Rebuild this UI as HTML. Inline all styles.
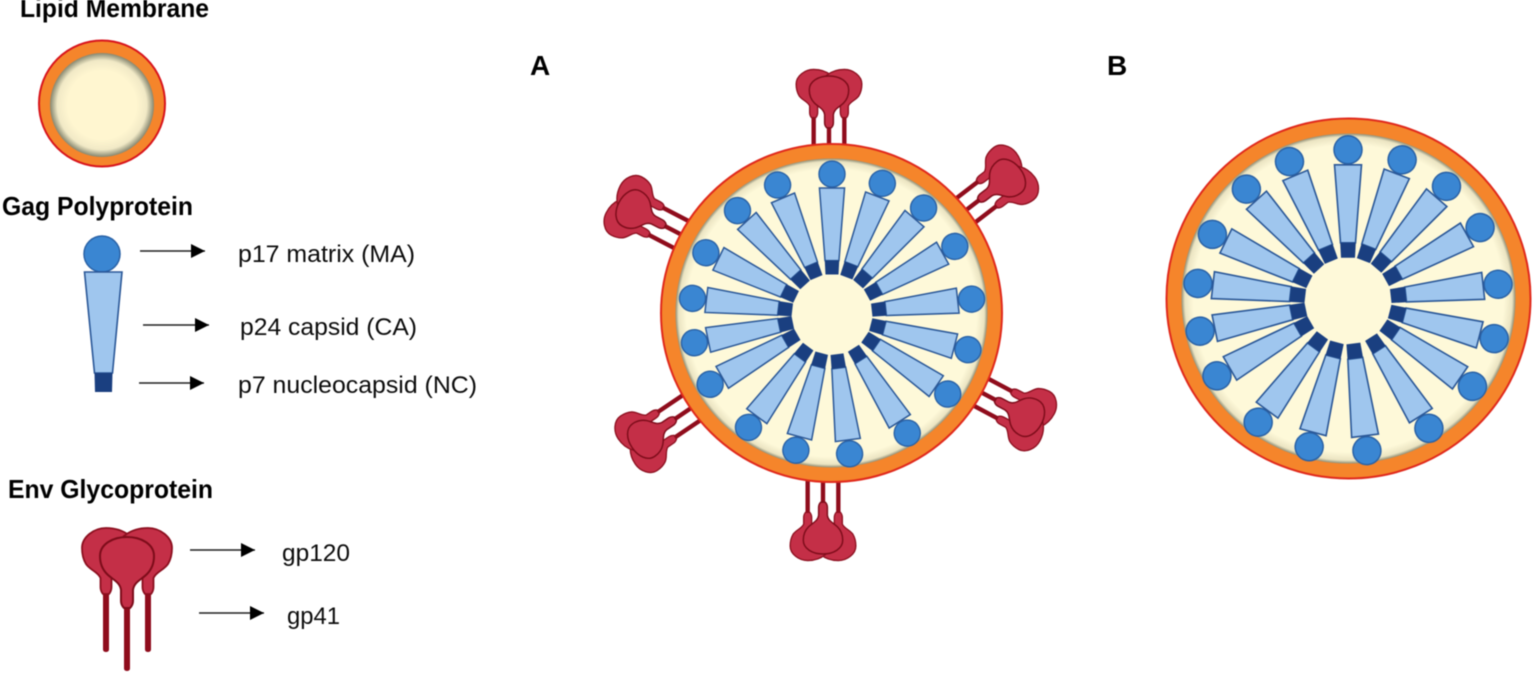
<!DOCTYPE html>
<html><head><meta charset="utf-8"><style>
html,body{margin:0;padding:0;background:#fff;width:1535px;height:674px;overflow:hidden}
svg{display:block;filter:blur(.55px)}
text{font-family:"Liberation Sans",sans-serif;fill:#000}
.b{font-weight:bold;font-size:26px;fill:#000}
.r{font-size:24px;fill:#0c0c0c}
.l{font-weight:bold;font-size:28px;fill:#000}
</style></head><body>
<svg width="1535" height="674" viewBox="0 0 1535 674" xmlns="http://www.w3.org/2000/svg">
<defs>
<radialGradient id="g1"><stop offset="0.66" stop-color="#fff6d0"/><stop offset="0.86" stop-color="#f1e9c6"/><stop offset="1" stop-color="#85866f"/></radialGradient>
<radialGradient id="g2"><stop offset="0.93" stop-color="#fef9d9"/><stop offset="0.98" stop-color="#ebe4c2"/><stop offset="1" stop-color="#8f8e76"/></radialGradient>
<g id="u">
<circle cy="-151" r="14" fill="#3a86d2" stroke="#2a62a6" stroke-width="1.5"/>
<polygon points="-7.5,-58 7.5,-58 13.5,-136 -13.5,-136" fill="#9fc6ee" stroke="#2a5797" stroke-width="1.6"/>
<polygon points="-7,-43 7,-43 7.8,-58 -7.8,-58" fill="#1a3f80"/>
</g>
<g id="units">
<use href="#u"/>
<use href="#u" transform="rotate(21)"/>
<use href="#u" transform="rotate(40.7)"/>
<use href="#u" transform="rotate(61)"/>
<use href="#u" transform="rotate(83.7)"/>
<use href="#u" transform="rotate(104.5)"/>
<use href="#u" transform="rotate(124.5)"/>
<use href="#u" transform="rotate(147.6)"/>
<use href="#u" transform="rotate(172.8)"/>
<use href="#u" transform="rotate(194.9)"/>
<use href="#u" transform="rotate(216.5)"/>
<use href="#u" transform="rotate(240.2)"/>
<use href="#u" transform="rotate(258.4)"/>
<use href="#u" transform="rotate(276.6)"/>
<use href="#u" transform="rotate(296.1)"/>
<use href="#u" transform="rotate(317.7)"/>
<use href="#u" transform="rotate(337.2)"/>
</g>
<g id="lobe">
<rect x="-3" y="590" width="6" height="62" rx="2.5" fill="#8f0c1c"/>
<path fill="#c42f47" stroke="#8c0f1f" stroke-width="1.8" d="M-5.5,578 C-8,572 -16,570 -20,564 C-23,559 -24,554 -24,548 C-24,537 -12,528 0,528 C10,528 18,531 24,536 C30,541 29,556 22,564 C15,570 8,572 5.5,578 L5.5,587 Q5.5,591 3,594 L-3,594 Q-5.5,591 -5.5,587Z"/>
</g>
<g id="env">
<use href="#lobe" transform="translate(-21 0)"/>
<use href="#lobe" transform="translate(21 0) scale(-1 1)"/>
<rect x="-3" y="600" width="6" height="71" rx="2.5" fill="#8f0c1c"/>
<path fill="#c42f47" stroke="#7d0c1a" stroke-width="2" d="M-6,590 C-7,582 -14,580 -20,574 C-25,569 -27,563 -27,556 C-27,544 -14,537 0,537 C14,537 27,544 27,556 C27,563 25,569 20,574 C14,580 7,582 6,590 L6,601 Q6,605 3,608 L-3,608 Q-6,605 -6,601Z"/>
</g>
<marker id="ah" markerUnits="userSpaceOnUse" markerWidth="16" markerHeight="16" refX="14" refY="7" orient="auto"><path d="M0,0 L14,7 L0,14Z" fill="#000"/></marker>
</defs>

<!-- Legend -->
<text class="b" x="20" y="17" textLength="189" lengthAdjust="spacingAndGlyphs">Lipid Membrane</text>
<circle cx="102" cy="103.5" r="63" fill="#f5852b" stroke="#d8141c" stroke-width="2"/>
<circle cx="102" cy="105" r="52" fill="url(#g1)"/>

<text class="b" x="2" y="215" textLength="191" lengthAdjust="spacingAndGlyphs">Gag Polyprotein</text>
<circle cx="102" cy="254" r="18" fill="#3a86d2" stroke="#2a62a6" stroke-width="1.5"/>
<polygon points="84.5,272 122,272 112.5,373 94.5,373" fill="#9fc6ee" stroke="#2a5797" stroke-width="1.6"/>
<polygon points="94.5,373 112.5,373 112,392 95,392" fill="#1a3f80"/>

<g stroke="#222" stroke-width="1.5">
<line x1="140" y1="251" x2="205" y2="251" marker-end="url(#ah)"/>
<line x1="143" y1="325" x2="209" y2="325" marker-end="url(#ah)"/>
<line x1="139" y1="383" x2="204" y2="383" marker-end="url(#ah)"/>
<line x1="190" y1="550" x2="255" y2="550" marker-end="url(#ah)"/>
<line x1="199" y1="613" x2="264" y2="613" marker-end="url(#ah)"/>
</g>

<text class="r" x="238" y="262" textLength="177" lengthAdjust="spacingAndGlyphs">p17 matrix (MA)</text>
<text class="r" x="240" y="335" textLength="177" lengthAdjust="spacingAndGlyphs">p24 capsid (CA)</text>
<text class="r" x="238" y="393" textLength="239" lengthAdjust="spacingAndGlyphs">p7 nucleocapsid (NC)</text>

<text class="b" x="8" y="498" textLength="205" lengthAdjust="spacingAndGlyphs">Env Glycoprotein</text>
<use href="#env" transform="translate(127 0)"/>
<text class="r" x="282" y="561" textLength="68" lengthAdjust="spacingAndGlyphs">gp120</text>
<text class="r" x="287" y="624" textLength="53" lengthAdjust="spacingAndGlyphs">gp41</text>

<text class="l" x="530" y="75">A</text>
<text class="l" x="1107" y="75">B</text>

<!-- Virion A -->
<use href="#env" transform="rotate(0 832 313) translate(829 76) scale(.73) translate(0 -537)"/>
<use href="#env" transform="rotate(52.5 832 313) translate(832 76) scale(.73) translate(0 -537)"/>
<use href="#env" transform="rotate(118 832 313) translate(832 76) scale(.73) translate(0 -537)"/>
<use href="#env" transform="rotate(180 832 313) translate(841 72) scale(.73) translate(0 -537)"/>
<use href="#env" transform="rotate(236 832 313) translate(832 72) scale(.73) translate(0 -537)"/>
<use href="#env" transform="rotate(297.5 832 313) translate(832 73) scale(.73) translate(0 -537)"/>
<ellipse cx="831.5" cy="313" rx="170.5" ry="169" fill="#f5852b" stroke="#e0291c" stroke-width="2"/>
<ellipse cx="831.5" cy="313" rx="156" ry="154.5" fill="url(#g2)"/>
<g transform="translate(832 314.5) scale(.93)"><use href="#units"/></g>

<!-- Virion B -->
<ellipse cx="1348.5" cy="298.5" rx="182" ry="180" fill="#f5852b" stroke="#e0291c" stroke-width="2"/>
<ellipse cx="1348.5" cy="298.5" rx="167" ry="165" fill="url(#g2)"/>
<g transform="translate(1348 300.8)"><use href="#units"/></g>
</svg>
</body></html>
